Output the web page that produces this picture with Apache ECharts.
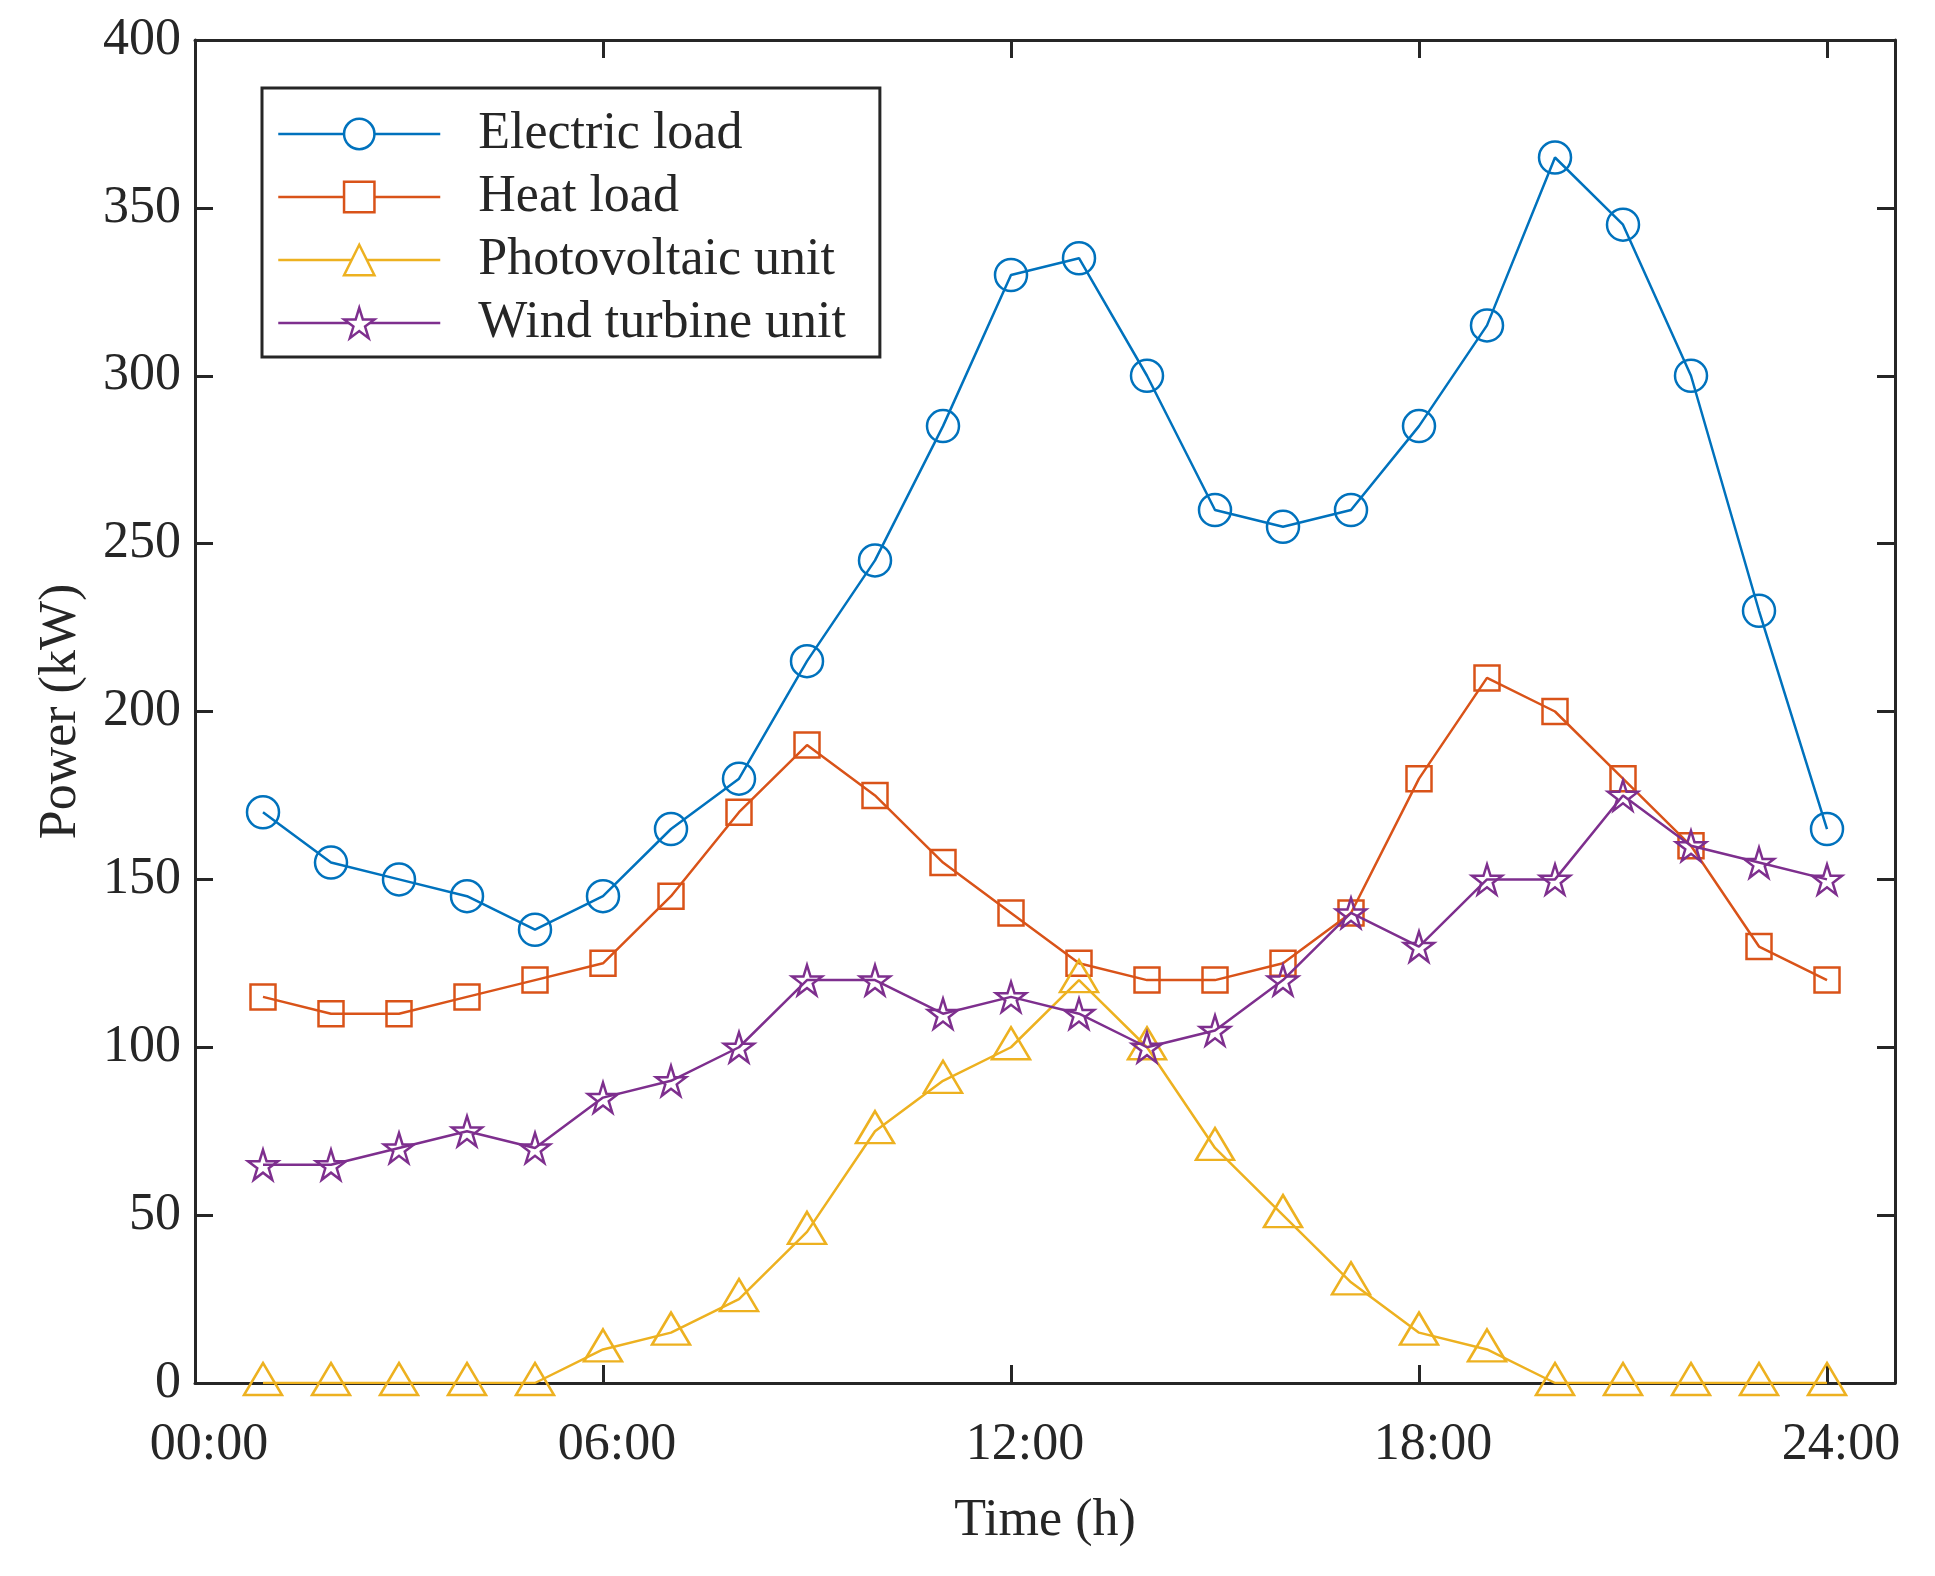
<!DOCTYPE html>
<html>
<head>
<meta charset="utf-8">
<title>Power profile</title>
<script src="https://cdn.jsdelivr.net/npm/echarts@6/dist/echarts.min.js"></script>
<style>
  html, body { margin: 0; padding: 0; background: #fff; }
  #main { width: 1935px; height: 1576px; }
</style>
</head>
<body>
<div id="main"></div>
<script>
// hours of the day (x axis)
const hours = [1, 2, 3, 4, 5, 6, 7, 8, 9, 10, 11, 12, 13, 14, 15, 16, 17, 18, 19, 20, 21, 22, 23, 24];
const electricLoad = [170, 155, 150, 145, 135, 145, 165, 180, 215, 245, 285, 330, 335, 300, 260, 255, 260, 285, 315, 365, 345, 300, 230, 165];
const heatLoad = [115, 110, 110, 115, 120, 125, 145, 170, 190, 175, 155, 140, 125, 120, 120, 125, 140, 180, 210, 200, 180, 160, 130, 120];
const pvUnit = [0, 0, 0, 0, 0, 10, 15, 25, 45, 75, 90, 100, 120, 100, 70, 50, 30, 15, 10, 0, 0, 0, 0, 0];
const windUnit = [65, 65, 70, 75, 70, 85, 90, 100, 120, 120, 110, 115, 110, 100, 105, 120, 140, 130, 150, 150, 175, 160, 155, 150];
const seriesNames = ['Electric load', 'Heat load', 'Photovoltaic unit', 'Wind turbine unit'];
const xTicks = [0, 6, 12, 18, 24];

const colors = ['#0072BD', '#D95319', '#EDB120', '#7E2F8E'];
const font = 'Liberation Serif';
const ink = '#262626';
const star = 'path://M50,0 L61.2,34.5 L97.6,34.5 L68.2,55.9 L79.4,90.5 L50,69.1 L20.6,90.5 L31.8,55.9 L2.4,34.5 L38.8,34.5 Z';

const myChart = echarts.init(document.getElementById('main'));

function line(i, values, symbol, size, offset) {
  return {
    name: seriesNames[i],
    type: 'line',
    data: hours.map((h, k) => [h, values[k]]),
    symbol: symbol,
    symbolSize: size,
    symbolOffset: offset || [0, 0],
    showAllSymbol: true,
    lineStyle: { color: colors[i], width: 2.5 },
    itemStyle: { color: 'transparent', borderColor: colors[i], borderWidth: 2.5 },
    emphasis: { disabled: true },
    z: 3 + i
  };
}

// box-style axes with inward ticks on all four sides
const tickStyle = { color: ink, width: 3 };
function xAx(pos, labels) {
  return {
    type: 'value', position: pos, min: 0, max: 25,
    axisLine: { show: true, onZero: false, lineStyle: tickStyle },
    axisTick: { show: true, inside: true, length: 18, customValues: xTicks, lineStyle: tickStyle },
    axisLabel: {
      show: labels, customValues: xTicks, margin: 36, padding: [0, 0, 0, 28],
      fontFamily: font, fontSize: 52, color: ink,
      formatter: v => (v < 10 ? '0' + v : '' + v) + ':00'
    },
    splitLine: { show: false }
  };
}
function yAx(pos, labels) {
  return {
    type: 'value', position: pos, min: 0, max: 400, interval: 50,
    axisLine: { show: true, onZero: false, lineStyle: tickStyle },
    axisTick: { show: true, inside: true, length: 18, lineStyle: tickStyle },
    axisLabel: { show: labels, margin: 14, fontFamily: font, fontSize: 52, color: ink },
    splitLine: { show: false }
  };
}

const xMain = xAx('bottom', true);
xMain.name = 'Time (h)';
xMain.nameLocation = 'middle';
xMain.nameGap = 112;
xMain.nameTextStyle = { fontFamily: font, fontSize: 52, color: ink };
const yMain = yAx('left', true);
yMain.name = 'Power (kW)';
yMain.nameLocation = 'middle';
yMain.nameGap = 108;
yMain.nameRotate = 90;
yMain.nameTextStyle = { fontFamily: font, fontSize: 52, color: ink };

const option = {
  animation: false,
  backgroundColor: '#fff',
  grid: { left: 195, right: 40, top: 40, bottom: 193, containLabel: false },
  xAxis: [xMain, xAx('top', false)],
  yAxis: [yMain, yAx('right', false)],
  legend: {
    orient: 'vertical',
    left: 262, top: 88,
    data: seriesNames.map((n, i) => ({
      name: n,
      itemStyle: { color: '#fff', borderColor: colors[i], borderWidth: 2.5 },
      lineStyle: { color: colors[i], width: 2.5 }
    })),
    itemWidth: 162, itemHeight: 38, itemGap: 11,
    padding: [20, 34, 8, 15],
    borderColor: ink, borderWidth: 3,
    backgroundColor: '#fff',
    textStyle: { fontFamily: font, fontSize: 52, color: ink, padding: [0, 0, 0, 33] }
  },
  series: [
    line(0, electricLoad, 'circle', 32),
    line(1, heatLoad, 'rect', 25),
    line(2, pvUnit, 'triangle', [38, 32], [0, -4]),
    line(3, windUnit, star, 30)
  ]
};
myChart.setOption(option);
</script>
</body>
</html>
